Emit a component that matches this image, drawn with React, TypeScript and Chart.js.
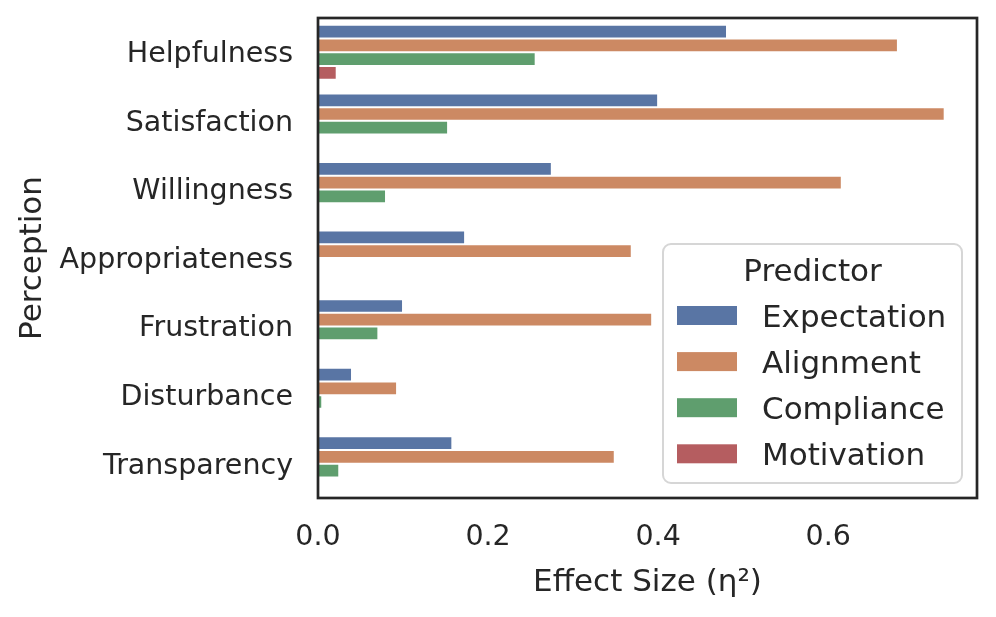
import React, { useEffect, useRef } from 'react';
import { Chart, registerables } from 'chart.js';

Chart.register(...registerables);

const categories = ['Helpfulness', 'Satisfaction', 'Willingness', 'Appropriateness', 'Frustration', 'Disturbance', 'Transparency'];
const predictors = ['Expectation', 'Alignment', 'Compliance', 'Motivation'];
const expectation = [0.481, 0.400, 0.275, 0.173, 0.100, 0.040, 0.158];
const alignment = [0.682, 0.737, 0.616, 0.369, 0.393, 0.093, 0.349];
const compliance = [0.256, 0.153, 0.080, null, 0.071, 0.005, 0.025];
const motivation = [0.022, null, null, null, null, null, null];
const seriesValues = [expectation, alignment, compliance, motivation];
const colors = ['#5975A4', '#CC8963', '#5F9E6E', '#B55D60'];
const xTickValues = [0, 0.2, 0.4, 0.6];
const xMax = 0.775;
const xTitle = 'Effect Size (η²)';
const yTitle = 'Perception';
const legendTitle = 'Predictor';

const FONT = "'DejaVu Sans', sans-serif";
const TEXT = '#262626';

const framePlugin = {
  id: 'frame',
  afterDatasetsDraw(chart: any) {
    const { ctx, chartArea } = chart;
    const { left, top, right, bottom } = chartArea;
    ctx.save();
    ctx.strokeStyle = TEXT;
    ctx.lineWidth = 2.7;
    ctx.strokeRect(left, top, right - left, bottom - top);
    ctx.restore();
  },
};

const legendPlugin = {
  id: 'seabornLegend',
  afterDraw(chart: any) {
    const { ctx, chartArea } = chart;
    const w = 299;
    const h = 239;
    const x = chartArea.right - 15 - w;
    const y = chartArea.bottom - 15 - h;
    ctx.save();
    ctx.beginPath();
    (ctx as any).roundRect(x, y, w, h, 8);
    ctx.fillStyle = 'rgba(255,255,255,0.85)';
    ctx.fill();
    ctx.lineWidth = 2;
    ctx.strokeStyle = '#d6d6d6';
    ctx.stroke();

    ctx.fillStyle = TEXT;
    ctx.font = `31px ${FONT}`;
    ctx.textAlign = 'center';
    ctx.textBaseline = 'alphabetic';
    ctx.fillText(legendTitle, x + w / 2, y + 37);

    ctx.textAlign = 'left';
    chart.data.datasets.forEach((ds: any, i: number) => {
      const rowY = y + 62 + i * 46.1;
      ctx.fillStyle = ds.backgroundColor;
      ctx.fillRect(x + 14, rowY, 60, 19);
      ctx.fillStyle = TEXT;
      ctx.fillText(ds.label, x + 99, rowY + 21);
    });
    ctx.restore();
  },
};

export default function App() {
  const canvasRef = useRef<HTMLCanvasElement | null>(null);

  useEffect(() => {
    if (!canvasRef.current) return;
    const chart = new Chart(canvasRef.current, {
      type: 'bar',
      data: {
        labels: categories,
        datasets: predictors.map((p, i) => ({
          label: p,
          data: seriesValues[i] as any,
          backgroundColor: colors[i],
          borderColor: 'rgba(255,255,255,0.75)',
          borderWidth: 1,
          borderSkipped: false,
          categoryPercentage: 0.8,
          barPercentage: 1.0,
        })),
      },
      options: {
        indexAxis: 'y',
        animation: false,
        responsive: true,
        maintainAspectRatio: false,
        layout: { padding: { left: 0, right: 19, top: 18, bottom: 0 } },
        plugins: {
          legend: { display: false },
          tooltip: { enabled: false },
        },
        scales: {
          x: {
            type: 'linear',
            min: 0,
            max: xMax,
            grid: { display: false, drawTicks: false },
            border: { display: false },
            afterFit: (scale: any) => {
              scale.height = 119;
              scale.paddingLeft = 0;
              scale.paddingRight = 0;
            },
            afterBuildTicks: (scale: any) => {
              scale.ticks = xTickValues.map((v) => ({ value: v }));
            },
            ticks: {
              color: TEXT,
              font: { family: FONT, size: 28.5 },
              padding: 22,
              maxRotation: 0,
              callback: (v: any) => Number(v).toFixed(1),
            },
            title: {
              display: true,
              text: xTitle,
              color: TEXT,
              font: { family: FONT, size: 31 },
              padding: { top: 15, bottom: 15 },
            },
          },
          y: {
            type: 'category',
            grid: { display: false, drawTicks: false },
            border: { display: false },
            afterFit: (scale: any) => {
              scale.width = 318;
              scale.paddingTop = 0;
              scale.paddingBottom = 0;
            },
            ticks: {
              color: TEXT,
              font: { family: FONT, size: 28.5 },
              padding: 25,
              labelOffset: 2.5,
            },
            title: {
              display: true,
              text: yTitle,
              color: TEXT,
              font: { family: FONT, size: 31 },
              padding: { top: 14, bottom: 14 },
            },
          },
        },
      },
      plugins: [framePlugin, legendPlugin],
    });
    return () => chart.destroy();
  }, []);

  return (
    <div style={{ position: 'fixed', left: 0, top: 0, width: 996, height: 617, background: '#fff' }}>
      <canvas ref={canvasRef} />
    </div>
  );
}
